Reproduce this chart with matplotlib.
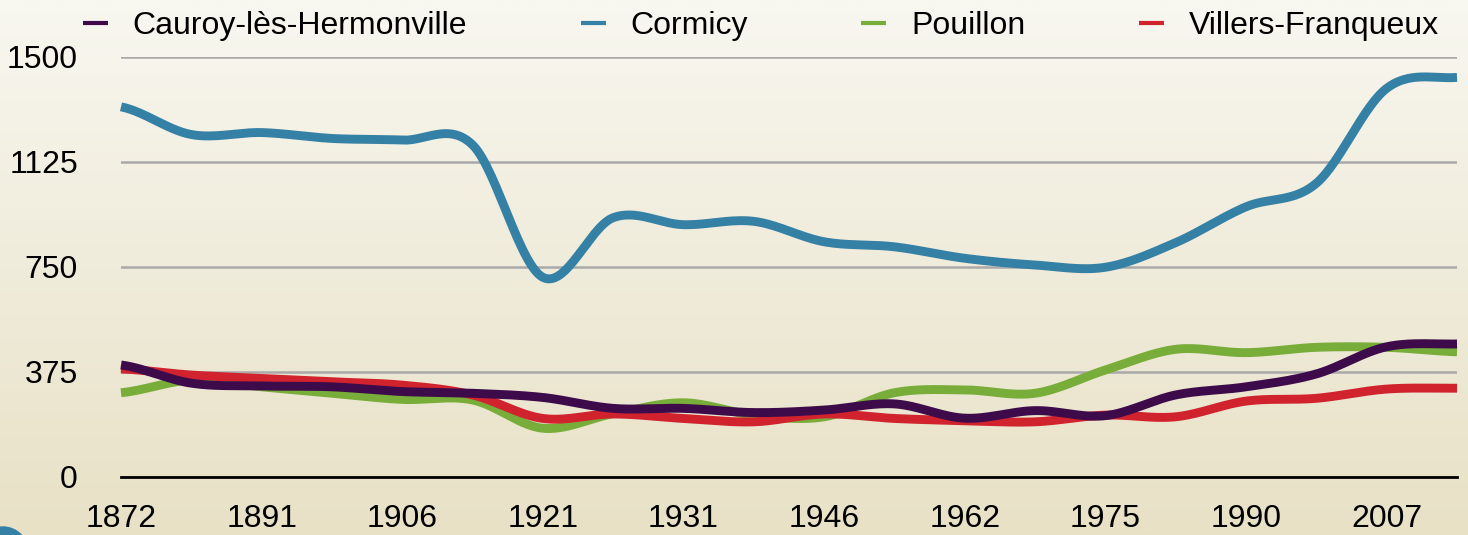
import numpy as np
import matplotlib
matplotlib.use("Agg")
import matplotlib.pyplot as plt
from matplotlib.patches import Ellipse

plt.rcParams['font.family'] = ['Liberation Sans', 'DejaVu Sans']

# data (census years, every other one labelled on the axis)
years = [1872, 1881, 1891, 1896, 1906, 1911, 1921, 1926, 1931, 1936,
         1946, 1954, 1962, 1968, 1975, 1982, 1990, 1999, 2007, 2012]
cauroy = [399, 334, 324, 321, 304, 298, 283, 244, 244, 229,
          238, 260, 209, 236, 218, 292, 321, 367, 464, 474]
cormicy = [1321, 1222, 1229, 1208, 1202, 1185, 712, 925, 900, 912,
           839, 821, 780, 756, 748, 836, 964, 1048, 1387, 1426]
pouillon = [300, 345, 321, 298, 276, 274, 173, 225, 264, 220,
            214, 300, 310, 298, 381, 455, 443, 462, 462, 446]
villers = [385, 363, 351, 339, 327, 292, 208, 224, 208, 196,
           224, 208, 200, 196, 220, 214, 270, 280, 313, 316]

names = ["Cauroy-lès-Hermonville", "Cormicy", "Pouillon", "Villers-Franqueux"]
colors = ["#3d0a4a", "#3580a5", "#78ad3a", "#d0232e"]
y_ticks = [0, 375, 750, 1125, 1500]
FS = 23


def smooth(vals, n=30):
    # catmull-rom spline, like the "smoothed line" option of spreadsheet charts
    p = np.r_[vals[0], vals, vals[-1]].astype(float)
    xs, ys = [], []
    for i in range(1, len(p) - 2):
        t = np.linspace(0, 1, n, endpoint=False)
        p0, p1, p2, p3 = p[i - 1], p[i], p[i + 1], p[i + 2]
        y = 0.5 * ((2 * p1) + (-p0 + p2) * t + (2 * p0 - 5 * p1 + 4 * p2 - p3) * t ** 2
                   + (-p0 + 3 * p1 - 3 * p2 + p3) * t ** 3)
        xs.append(i - 1 + t)
        ys.append(y)
    xs.append([len(vals) - 1])
    ys.append([vals[-1]])
    return np.concatenate(xs), np.concatenate(ys)


W, H = 1468, 535
fig = plt.figure(figsize=(W / 100, H / 100), dpi=100)

# background gradient
bg = fig.add_axes([0, 0, 1, 1], zorder=-10)
top = np.array([248, 247, 240]) / 255
bot = np.array([232, 225, 198]) / 255
g = np.linspace(0, 1, 256)[:, None, None]
grad = top * (1 - g) + bot * g
bg.imshow(np.repeat(grad, 2, axis=1), aspect='auto', extent=[0, 1, 0, 1])
bg.set_xlim(0, 1)
bg.set_ylim(0, 1)
# cut-off badge in the bottom-left corner
bg.add_patch(Ellipse((3 / W, -17 / H), 50 / W, 50 / H, color="#3580a5"))
bg.axis('off')

ax = fig.add_axes([121 / W, (H - 476.7) / H, (1457 - 121) / W, (476.7 - 56.7) / H])
ax.patch.set_alpha(0)

series = [cormicy, pouillon, villers, cauroy]
order = [1, 2, 3, 0]
lines = {}
for vals, k in zip(series, order):
    x, y = smooth(vals)
    ln, = ax.plot(x, y, color=colors[k], lw=6.4, solid_capstyle='butt', clip_on=False, label=names[k])
    lines[k] = ln

ax.set_xlim(0, len(years) - 1)
ax.set_ylim(0, 1500)
ax.set_yticks(y_ticks)
ax.set_yticklabels([str(v) for v in y_ticks])
ax.set_xticks(range(0, len(years), 2))
ax.set_xticklabels([str(v) for v in years[::2]])
ax.yaxis.grid(True, color="#a9a9a9", lw=1.8)
ax.set_axisbelow(True)
for s in ['top', 'right', 'left']:
    ax.spines[s].set_visible(False)
ax.spines['bottom'].set_color('black')
ax.spines['bottom'].set_linewidth(2)
ax.tick_params(axis='both', length=0, labelsize=FS, colors='black')
ax.tick_params(axis='y', pad=31)
ax.tick_params(axis='x', pad=20)

fig.legend([lines[k] for k in range(4)], names, loc='center left',
           bbox_to_anchor=(83 / W, 1 - 26 / H), ncol=4, frameon=False,
           fontsize=FS, handlelength=0.78, handletextpad=0.78,
           columnspacing=3.55, borderpad=0, borderaxespad=0)
for h in fig.legends[0].legend_handles:
    h.set_linewidth(3)

fig.savefig("out.png", dpi=100)
